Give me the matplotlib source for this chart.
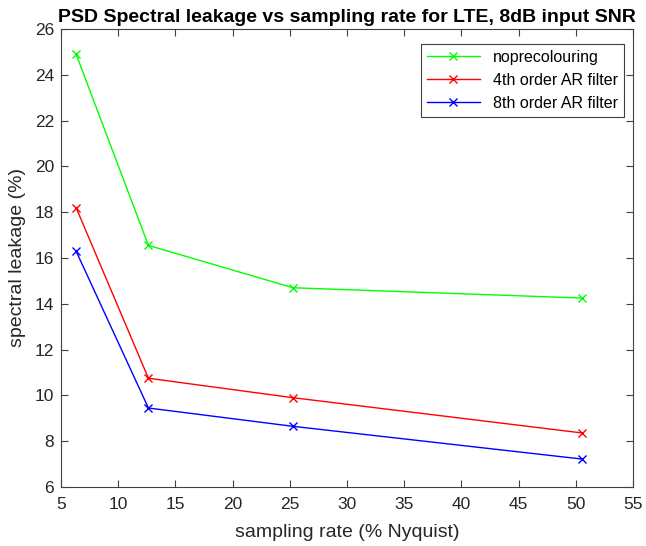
import matplotlib
matplotlib.use("Agg")
import matplotlib.pyplot as plt

plt.rcParams["font.family"] = ["Liberation Sans", "DejaVu Sans"]

sampling_rate = [6.32, 12.64, 25.28, 50.56]
noprecolouring = [24.9, 16.55, 14.7, 14.25]
ar4 = [18.2, 10.75, 9.9, 8.36]
ar8 = [16.3, 9.45, 8.65, 7.22]

fig = plt.figure(figsize=(6.46, 5.46), dpi=100)
ax = fig.add_axes([0.0944, 0.108, 0.8856, 0.839])

ax.plot(sampling_rate, noprecolouring, color=(0, 1, 0), marker="x", markersize=6,
        linewidth=1, label="noprecolouring")
ax.plot(sampling_rate, ar4, color=(1, 0, 0), marker="x", markersize=6,
        linewidth=1, label="4th order AR filter")
ax.plot(sampling_rate, ar8, color=(0, 0, 1), marker="x", markersize=6,
        linewidth=1, label="8th order AR filter")

ax.set_xlim(5, 55)
ax.set_ylim(6, 26)
ax.set_xticks(range(5, 56, 5))
ax.set_yticks(range(6, 27, 2))
ax.tick_params(direction="in", top=True, right=True, labelsize=12.5,
               color="0.25", labelcolor="0.15", length=5)
ax.tick_params(axis="x", pad=7)
ax.tick_params(axis="y", pad=5)
for spine in ax.spines.values():
    spine.set_color("0.25")
    spine.set_linewidth(0.8)

ax.set_xlabel("sampling rate (% Nyquist)", fontsize=14, color="0.15", labelpad=9)
ax.set_ylabel("spectral leakage (%)", fontsize=14, color="0.15", labelpad=6)
ax.set_title("PSD Spectral leakage vs sampling rate for LTE, 8dB input SNR",
             fontsize=14, fontweight="bold", pad=5)

leg = ax.legend(loc="upper right", bbox_to_anchor=(0.984, 0.968), borderaxespad=0,
                fontsize=11.5, fancybox=False, framealpha=1,
                edgecolor="0.25", handlelength=3.3)
leg.get_frame().set_linewidth(0.8)

fig.savefig("out.png", dpi=100)
plt.close(fig)
